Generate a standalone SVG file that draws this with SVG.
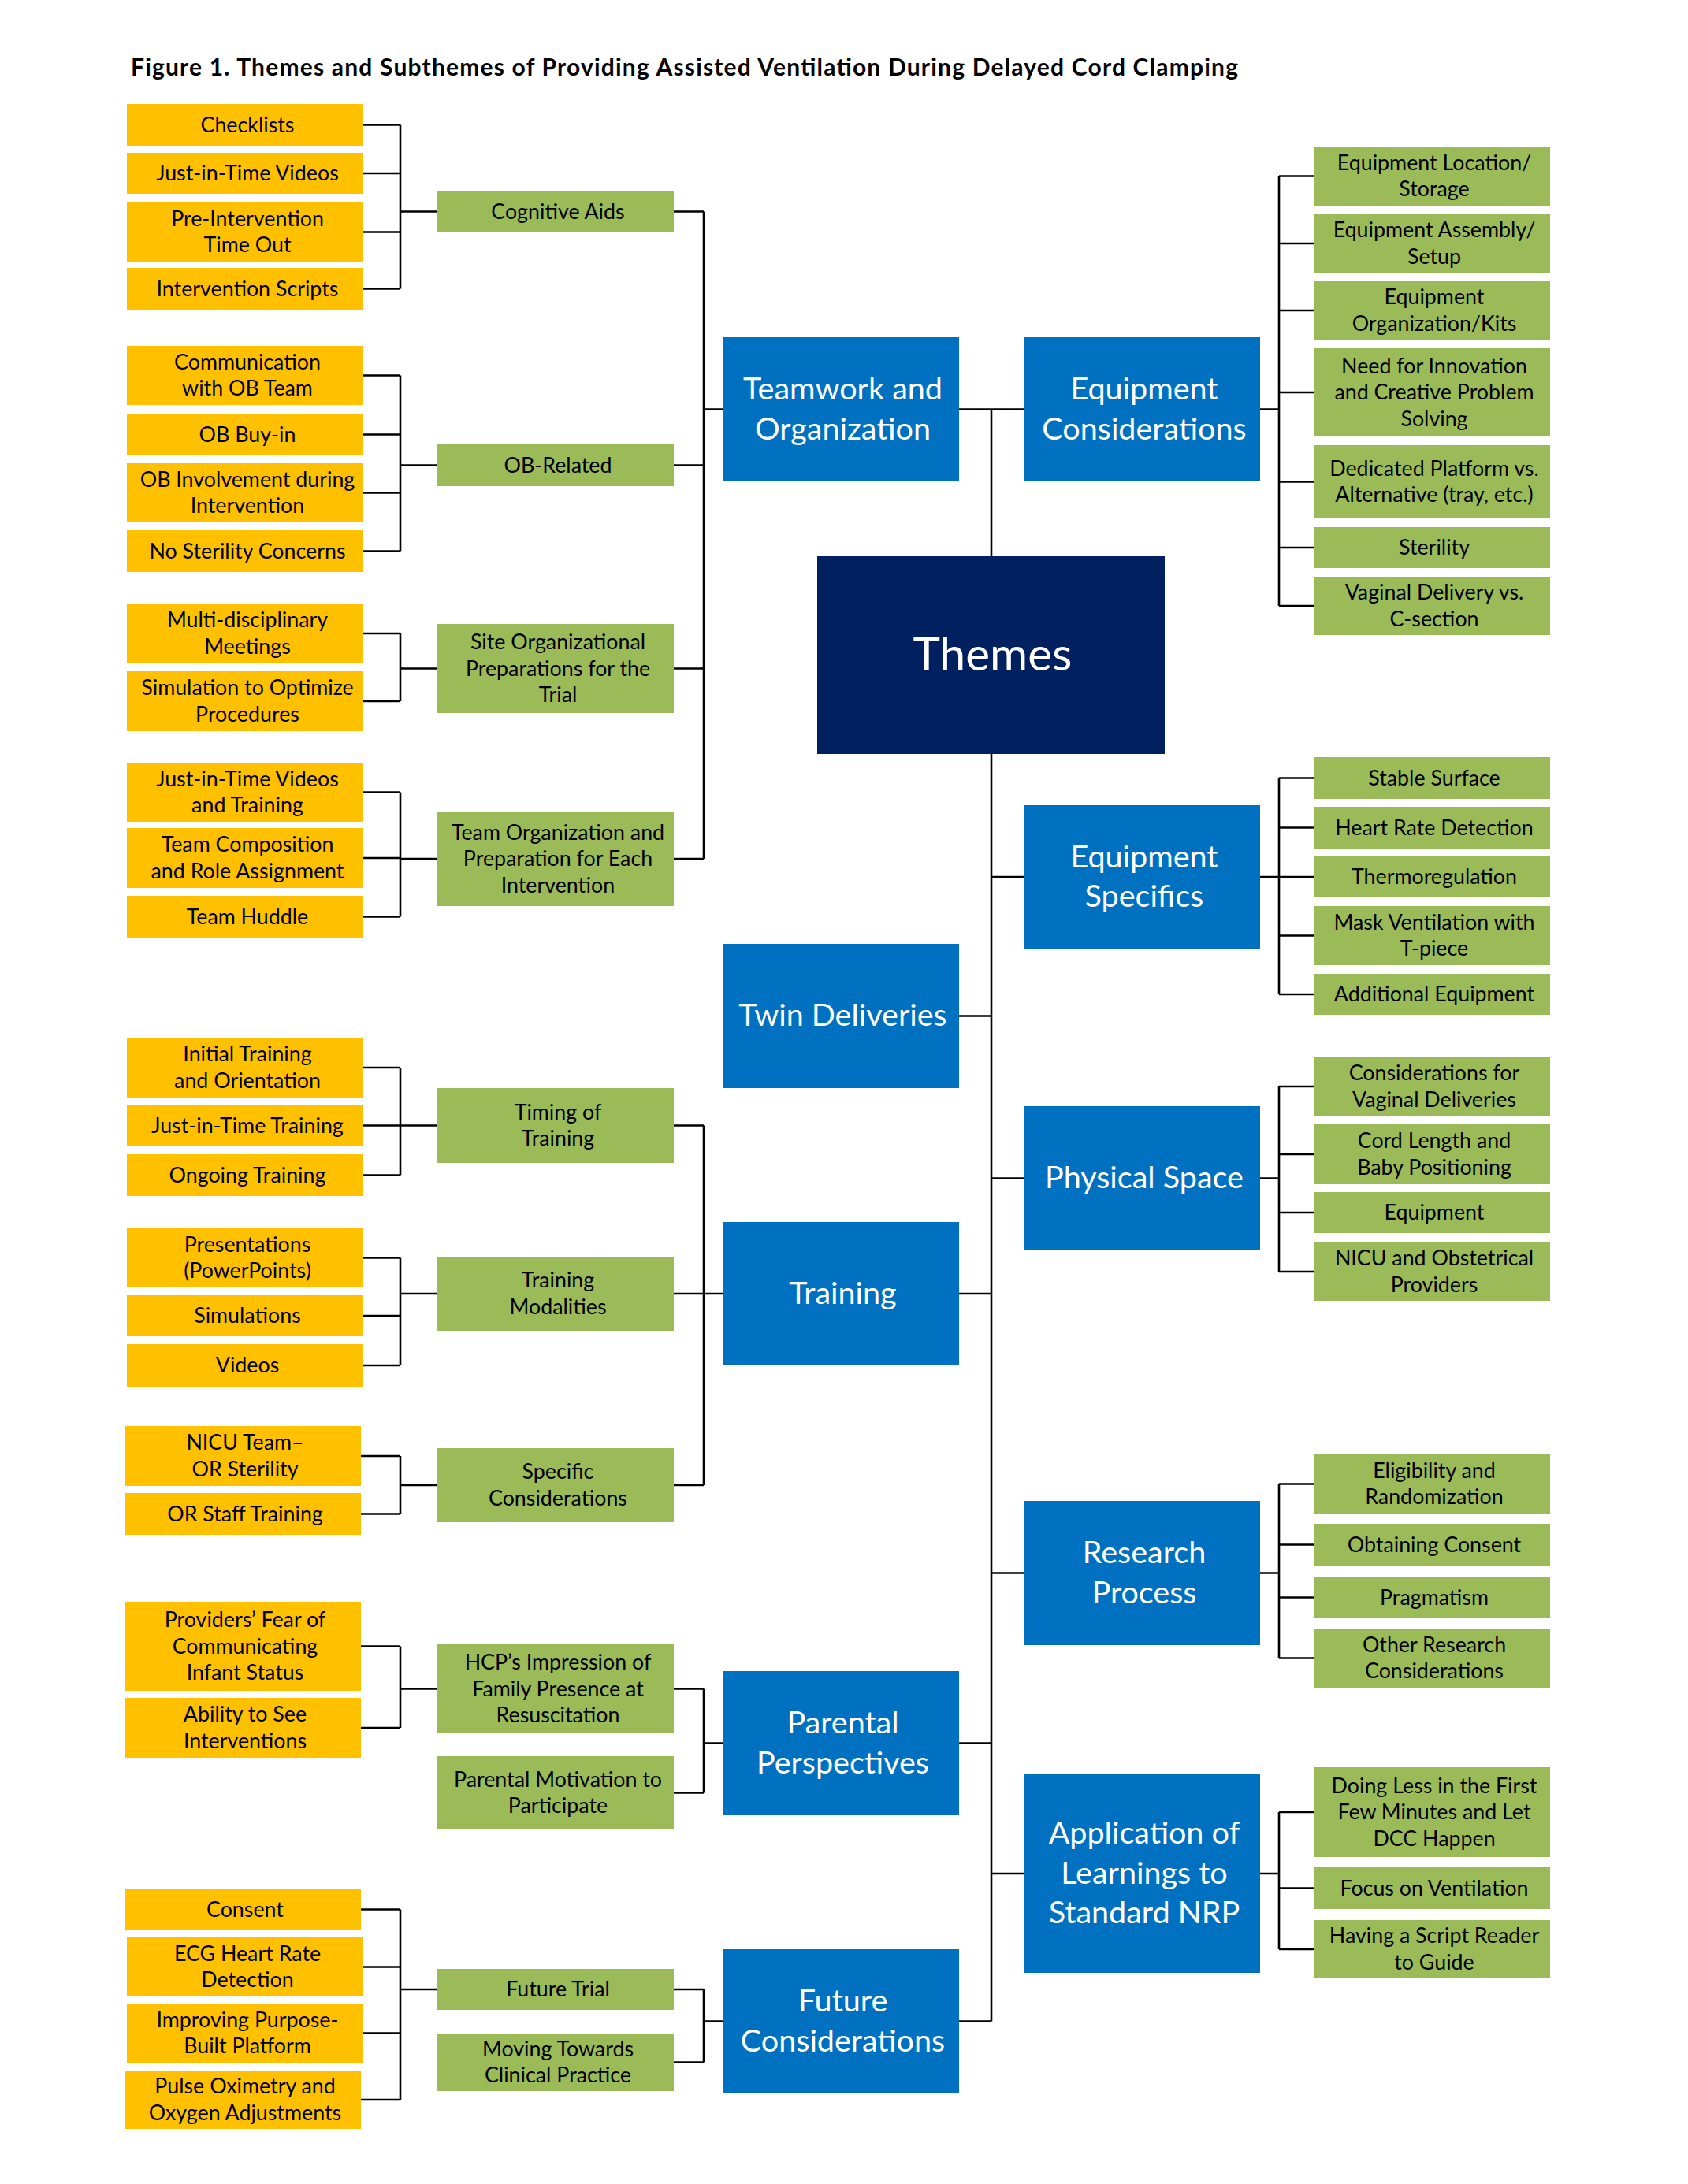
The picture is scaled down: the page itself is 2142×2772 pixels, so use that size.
<svg xmlns="http://www.w3.org/2000/svg" width="2142" height="2772" viewBox="0 0 2142 2772">
<style>
.y{fill:#FFC000}.g{fill:#9BBB59}.b{fill:#0070C0}.n{fill:#002060}
text{font-family:Lato,"Liberation Sans",sans-serif;text-anchor:middle}
.s{font-size:26.8px;fill:#000}
.w{font-size:39.5px;fill:#fff}
.th{font-size:58.5px;fill:#fff}
.ttl{font-size:30px;font-weight:bold;fill:#000;text-anchor:start}
#connectors path{stroke:#000;stroke-width:2.6;fill:none}
</style>
<rect width="2142" height="2772" fill="#fff"/>
<text class="ttl" x="166" y="96" textLength="1405" lengthAdjust="spacing">Figure 1. Themes and Subthemes of Providing Assisted Ventilation During Delayed Cord Clamping</text>

<g id="connectors">
<path d="M461 158.5H508M461 220H508M461 294.5H508M461 366.5H508M508 158.5V366.5M508 268.5H555"/>
<path d="M461 476.5H508M461 551.5H508M461 625.5H508M461 699.5H508M508 476.5V699.5M508 590.5H555"/>
<path d="M461 804H508M461 890H508M508 804V890M508 848.5H555"/>
<path d="M461 1005.5H508M461 1089H508M461 1163.5H508M508 1005.5V1163.5M508 1090H555"/>
<path d="M461 1355H508M461 1428.5H508M461 1491.5H508M508 1355V1491.5M508 1428.5H555"/>
<path d="M461 1596.5H508M461 1670H508M461 1733H508M508 1596.5V1733M508 1642H555"/>
<path d="M458 1848H508M458 1921.5H508M508 1848V1921.5M508 1885H555"/>
<path d="M458 2089.5H508M458 2193H508M508 2089.5V2193M508 2143.5H555"/>
<path d="M458 2423.5H508M461 2496.5H508M461 2580.5H508M458 2665H508M508 2423.5V2665M508 2525H555"/>
<path d="M855 268.5H893M855 590.5H893M855 848.5H893M855 1090H893M893 268.5V1090M893 519.5H917"/>
<path d="M855 1428.5H893M855 1642H893M855 1885H893M893 1428.5V1885M893 1642H917"/>
<path d="M855 2143.5H893M855 2275.5H893M893 2143.5V2275.5M893 2212.5H917"/>
<path d="M855 2525H893M855 2617.5H893M893 2525V2617.5M893 2565.5H917"/>
<path d="M1258 519.5V2565.5M1217 519.5H1300"/>
<path d="M1217 1289.5H1258M1217 1642H1258M1217 2212.5H1258M1217 2565.5H1258"/>
<path d="M1258 1113H1300M1258 1495.5H1300M1258 1996.5H1300M1258 2378H1300"/>
<path d="M1599 519.5H1623M1623 223.5V769M1623 223.5H1667M1623 309H1667M1623 394H1667M1623 498H1667M1623 611.5H1667M1623 695H1667M1623 769H1667"/>
<path d="M1599 1113H1623M1623 987.5V1262M1623 987.5H1667M1623 1050.5H1667M1623 1113H1667M1623 1187.5H1667M1623 1262H1667"/>
<path d="M1599 1495.5H1623M1623 1379V1614M1623 1379H1667M1623 1465H1667M1623 1539H1667M1623 1614H1667"/>
<path d="M1599 1996.5H1623M1623 1883.5V2104.5M1623 1883.5H1667M1623 1960.5H1667M1623 2027.5H1667M1623 2104.5H1667"/>
<path d="M1599 2378H1623M1623 2300V2474M1623 2300H1667M1623 2396.5H1667M1623 2474H1667"/>
</g>

<g id="themes"><rect class="n" x="1037" y="706" width="441" height="251"/><text class="th" x="1259.5" y="851">Themes</text></g>

<g id="teamwork"><rect class="b" x="917" y="428" width="300" height="183"/><text class="w"><tspan x="1069.5" y="507">Teamwork and</tspan><tspan x="1069.5" y="557.5">Organization</tspan></text></g>
<g id="twin"><rect class="b" x="917" y="1198" width="300" height="183"/><text class="w" x="1069.5" y="1302">Twin Deliveries</text></g>
<g id="training"><rect class="b" x="917" y="1551" width="300" height="182"/><text class="w" x="1069.5" y="1654.5">Training</text></g>
<g id="parental"><rect class="b" x="917" y="2121" width="300" height="183"/><text class="w"><tspan x="1069.5" y="2200">Parental</tspan><tspan x="1069.5" y="2250.5">Perspectives</tspan></text></g>
<g id="future"><rect class="b" x="917" y="2474" width="300" height="183"/><text class="w"><tspan x="1069.5" y="2553">Future</tspan><tspan x="1069.5" y="2603.5">Considerations</tspan></text></g>

<g id="eqcons"><rect class="b" x="1300" y="428" width="299" height="183"/><text class="w"><tspan x="1452" y="507">Equipment</tspan><tspan x="1452" y="557.5">Considerations</tspan></text></g>
<g id="eqspec"><rect class="b" x="1300" y="1022" width="299" height="182"/><text class="w"><tspan x="1452" y="1100.5">Equipment</tspan><tspan x="1452" y="1151">Specifics</tspan></text></g>
<g id="physical"><rect class="b" x="1300" y="1404" width="299" height="183"/><text class="w" x="1452" y="1508">Physical Space</text></g>
<g id="research"><rect class="b" x="1300" y="1905" width="299" height="183"/><text class="w"><tspan x="1452" y="1984">Research</tspan><tspan x="1452" y="2034.5">Process</tspan></text></g>
<g id="application"><rect class="b" x="1300" y="2252" width="299" height="252"/><text class="w"><tspan x="1452" y="2340">Application of</tspan><tspan x="1452" y="2390.5">Learnings to</tspan><tspan x="1452" y="2441">Standard NRP</tspan></text></g>

<g id="cognitive"><rect class="g" x="555" y="242" width="300" height="53"/><text class="s" x="708" y="277.5">Cognitive Aids</text></g>
<g id="obrelated"><rect class="g" x="555" y="564" width="300" height="53"/><text class="s" x="708" y="599.5">OB-Related</text></g>
<g id="siteorg"><rect class="g" x="555" y="792" width="300" height="113"/><text class="s"><tspan x="708" y="824">Site Organizational</tspan><tspan x="708" y="857.5">Preparations for the</tspan><tspan x="708" y="891">Trial</tspan></text></g>
<g id="teamorg"><rect class="g" x="555" y="1030" width="300" height="120"/><text class="s"><tspan x="708" y="1065.5">Team Organization and</tspan><tspan x="708" y="1099">Preparation for Each</tspan><tspan x="708" y="1132.5">Intervention</tspan></text></g>
<g id="timing"><rect class="g" x="555" y="1381" width="300" height="95"/><text class="s"><tspan x="708" y="1420.75">Timing of</tspan><tspan x="708" y="1454.25">Training</tspan></text></g>
<g id="modalities"><rect class="g" x="555" y="1595" width="300" height="94"/><text class="s"><tspan x="708" y="1634.25">Training</tspan><tspan x="708" y="1667.75">Modalities</tspan></text></g>
<g id="specific"><rect class="g" x="555" y="1838" width="300" height="94"/><text class="s"><tspan x="708" y="1877.25">Specific</tspan><tspan x="708" y="1910.75">Considerations</tspan></text></g>
<g id="hcp"><rect class="g" x="555" y="2087" width="300" height="113"/><text class="s"><tspan x="708" y="2119">HCP’s Impression of</tspan><tspan x="708" y="2152.5">Family Presence at</tspan><tspan x="708" y="2186">Resuscitation</tspan></text></g>
<g id="motivation"><rect class="g" x="555" y="2229" width="300" height="93"/><text class="s"><tspan x="708" y="2267.75">Parental Motivation to</tspan><tspan x="708" y="2301.25">Participate</tspan></text></g>
<g id="futuretrial"><rect class="g" x="555" y="2499" width="300" height="52"/><text class="s" x="708" y="2534">Future Trial</text></g>
<g id="moving"><rect class="g" x="555" y="2581" width="300" height="73"/><text class="s"><tspan x="708" y="2609.75">Moving Towards</tspan><tspan x="708" y="2643.25">Clinical Practice</tspan></text></g>

<g id="checklists"><rect class="y" x="161" y="132" width="300" height="53"/><text class="s" x="314" y="167.5">Checklists</text></g>
<g id="jitvideos"><rect class="y" x="161" y="194" width="300" height="52"/><text class="s" x="314" y="229">Just-in-Time Videos</text></g>
<g id="preint"><rect class="y" x="161" y="257" width="300" height="75"/><text class="s"><tspan x="314" y="286.75">Pre-Intervention</tspan><tspan x="314" y="320.25">Time Out</tspan></text></g>
<g id="scripts"><rect class="y" x="161" y="340" width="300" height="53"/><text class="s" x="314" y="375.5">Intervention Scripts</text></g>
<g id="comm"><rect class="y" x="161" y="439" width="300" height="75"/><text class="s"><tspan x="314" y="468.75">Communication</tspan><tspan x="314" y="502.25">with OB Team</tspan></text></g>
<g id="buyin"><rect class="y" x="161" y="525" width="300" height="53"/><text class="s" x="314" y="560.5">OB Buy-in</text></g>
<g id="obinv"><rect class="y" x="161" y="588" width="300" height="75"/><text class="s"><tspan x="314" y="617.75">OB Involvement during</tspan><tspan x="314" y="651.25">Intervention</tspan></text></g>
<g id="nosterility"><rect class="y" x="161" y="673" width="300" height="53"/><text class="s" x="314" y="708.5">No Sterility Concerns</text></g>
<g id="multi"><rect class="y" x="161" y="766" width="300" height="76"/><text class="s"><tspan x="314" y="796.25">Multi-disciplinary</tspan><tspan x="314" y="829.75">Meetings</tspan></text></g>
<g id="simopt"><rect class="y" x="161" y="852" width="300" height="76"/><text class="s"><tspan x="314" y="882.25">Simulation to Optimize</tspan><tspan x="314" y="915.75">Procedures</tspan></text></g>
<g id="jitvt"><rect class="y" x="161" y="968" width="300" height="75"/><text class="s"><tspan x="314" y="997.75">Just-in-Time Videos</tspan><tspan x="314" y="1031.25">and Training</tspan></text></g>
<g id="teamcomp"><rect class="y" x="161" y="1051" width="300" height="76"/><text class="s"><tspan x="314" y="1081.25">Team Composition</tspan><tspan x="314" y="1114.75">and Role Assignment</tspan></text></g>
<g id="huddle"><rect class="y" x="161" y="1137" width="300" height="53"/><text class="s" x="314" y="1172.5">Team Huddle</text></g>
<g id="initial"><rect class="y" x="161" y="1317" width="300" height="76"/><text class="s"><tspan x="314" y="1347.25">Initial Training</tspan><tspan x="314" y="1380.75">and Orientation</tspan></text></g>
<g id="jittraining"><rect class="y" x="161" y="1402" width="300" height="53"/><text class="s" x="314" y="1437.5">Just-in-Time Training</text></g>
<g id="ongoing"><rect class="y" x="161" y="1465" width="300" height="53"/><text class="s" x="314" y="1500.5">Ongoing Training</text></g>
<g id="presentations"><rect class="y" x="161" y="1559" width="300" height="75"/><text class="s"><tspan x="314" y="1588.75">Presentations</tspan><tspan x="314" y="1622.25">(PowerPoints)</tspan></text></g>
<g id="simulations"><rect class="y" x="161" y="1644" width="300" height="52"/><text class="s" x="314" y="1679">Simulations</text></g>
<g id="videos"><rect class="y" x="161" y="1706" width="300" height="54"/><text class="s" x="314" y="1742">Videos</text></g>
<g id="nicuteam"><rect class="y" x="158" y="1810" width="300" height="76"/><text class="s"><tspan x="311" y="1840.25">NICU Team–</tspan><tspan x="311" y="1873.75">OR Sterility</tspan></text></g>
<g id="orstaff"><rect class="y" x="158" y="1895" width="300" height="53"/><text class="s" x="311" y="1930.5">OR Staff Training</text></g>
<g id="providers"><rect class="y" x="158" y="2033" width="300" height="113"/><text class="s"><tspan x="311" y="2065">Providers’ Fear of</tspan><tspan x="311" y="2098.5">Communicating</tspan><tspan x="311" y="2132">Infant Status</tspan></text></g>
<g id="ability"><rect class="y" x="158" y="2155" width="300" height="76"/><text class="s"><tspan x="311" y="2185.25">Ability to See</tspan><tspan x="311" y="2218.75">Interventions</tspan></text></g>
<g id="consent"><rect class="y" x="158" y="2398" width="300" height="51"/><text class="s" x="311" y="2432.5">Consent</text></g>
<g id="ecg"><rect class="y" x="161" y="2459" width="300" height="75"/><text class="s"><tspan x="314" y="2488.75">ECG Heart Rate</tspan><tspan x="314" y="2522.25">Detection</tspan></text></g>
<g id="improving"><rect class="y" x="161" y="2543" width="300" height="75"/><text class="s"><tspan x="314" y="2572.75">Improving Purpose-</tspan><tspan x="314" y="2606.25">Built Platform</tspan></text></g>
<g id="pulse"><rect class="y" x="158" y="2628" width="300" height="74"/><text class="s"><tspan x="311" y="2657.25">Pulse Oximetry and</tspan><tspan x="311" y="2690.75">Oxygen Adjustments</tspan></text></g>

<g id="eqloc"><rect class="g" x="1667" y="186" width="300" height="75"/><text class="s"><tspan x="1820" y="215.75">Equipment Location/</tspan><tspan x="1820" y="249.25">Storage</tspan></text></g>
<g id="eqasm"><rect class="g" x="1667" y="271" width="300" height="76"/><text class="s"><tspan x="1820" y="301.25">Equipment Assembly/</tspan><tspan x="1820" y="334.75">Setup</tspan></text></g>
<g id="eqorg"><rect class="g" x="1667" y="357" width="300" height="74"/><text class="s"><tspan x="1820" y="386.25">Equipment</tspan><tspan x="1820" y="419.75">Organization/Kits</tspan></text></g>
<g id="need"><rect class="g" x="1667" y="442" width="300" height="112"/><text class="s"><tspan x="1820" y="473.5">Need for Innovation</tspan><tspan x="1820" y="507">and Creative Problem</tspan><tspan x="1820" y="540.5">Solving</tspan></text></g>
<g id="dedicated"><rect class="g" x="1667" y="565" width="300" height="93"/><text class="s"><tspan x="1820" y="603.75">Dedicated Platform vs.</tspan><tspan x="1820" y="637.25">Alternative (tray, etc.)</tspan></text></g>
<g id="sterility"><rect class="g" x="1667" y="669" width="300" height="52"/><text class="s" x="1820" y="704">Sterility</text></g>
<g id="vaginal"><rect class="g" x="1667" y="732" width="300" height="74"/><text class="s"><tspan x="1820" y="761.25">Vaginal Delivery vs.</tspan><tspan x="1820" y="794.75">C-section</tspan></text></g>
<g id="stable"><rect class="g" x="1667" y="961" width="300" height="53"/><text class="s" x="1820" y="996.5">Stable Surface</text></g>
<g id="hr"><rect class="g" x="1667" y="1024" width="300" height="53"/><text class="s" x="1820" y="1059.5">Heart Rate Detection</text></g>
<g id="thermo"><rect class="g" x="1667" y="1087" width="300" height="52"/><text class="s" x="1820" y="1122">Thermoregulation</text></g>
<g id="mask"><rect class="g" x="1667" y="1150" width="300" height="75"/><text class="s"><tspan x="1820" y="1179.75">Mask Ventilation with</tspan><tspan x="1820" y="1213.25">T-piece</tspan></text></g>
<g id="additional"><rect class="g" x="1667" y="1236" width="300" height="52"/><text class="s" x="1820" y="1271">Additional Equipment</text></g>
<g id="consvag"><rect class="g" x="1667" y="1341" width="300" height="76"/><text class="s"><tspan x="1820" y="1371.25">Considerations for</tspan><tspan x="1820" y="1404.75">Vaginal Deliveries</tspan></text></g>
<g id="cord"><rect class="g" x="1667" y="1427" width="300" height="76"/><text class="s"><tspan x="1820" y="1457.25">Cord Length and</tspan><tspan x="1820" y="1490.75">Baby Positioning</tspan></text></g>
<g id="equipment"><rect class="g" x="1667" y="1513" width="300" height="52"/><text class="s" x="1820" y="1548">Equipment</text></g>
<g id="nicuobst"><rect class="g" x="1667" y="1577" width="300" height="74"/><text class="s"><tspan x="1820" y="1606.25">NICU and Obstetrical</tspan><tspan x="1820" y="1639.75">Providers</tspan></text></g>
<g id="eligibility"><rect class="g" x="1667" y="1846" width="300" height="75"/><text class="s"><tspan x="1820" y="1875.75">Eligibility and</tspan><tspan x="1820" y="1909.25">Randomization</tspan></text></g>
<g id="obtaining"><rect class="g" x="1667" y="1934" width="300" height="53"/><text class="s" x="1820" y="1969.5">Obtaining Consent</text></g>
<g id="pragmatism"><rect class="g" x="1667" y="2001" width="300" height="53"/><text class="s" x="1820" y="2036.5">Pragmatism</text></g>
<g id="otherresearch"><rect class="g" x="1667" y="2067" width="300" height="75"/><text class="s"><tspan x="1820" y="2096.75">Other Research</tspan><tspan x="1820" y="2130.25">Considerations</tspan></text></g>
<g id="doingless"><rect class="g" x="1667" y="2243" width="300" height="114"/><text class="s"><tspan x="1820" y="2275.5">Doing Less in the First</tspan><tspan x="1820" y="2309">Few Minutes and Let</tspan><tspan x="1820" y="2342.5">DCC Happen</tspan></text></g>
<g id="focus"><rect class="g" x="1667" y="2370" width="300" height="53"/><text class="s" x="1820" y="2405.5">Focus on Ventilation</text></g>
<g id="having"><rect class="g" x="1667" y="2437" width="300" height="74"/><text class="s"><tspan x="1820" y="2466.25">Having a Script Reader</tspan><tspan x="1820" y="2499.75">to Guide</tspan></text></g>
</svg>
